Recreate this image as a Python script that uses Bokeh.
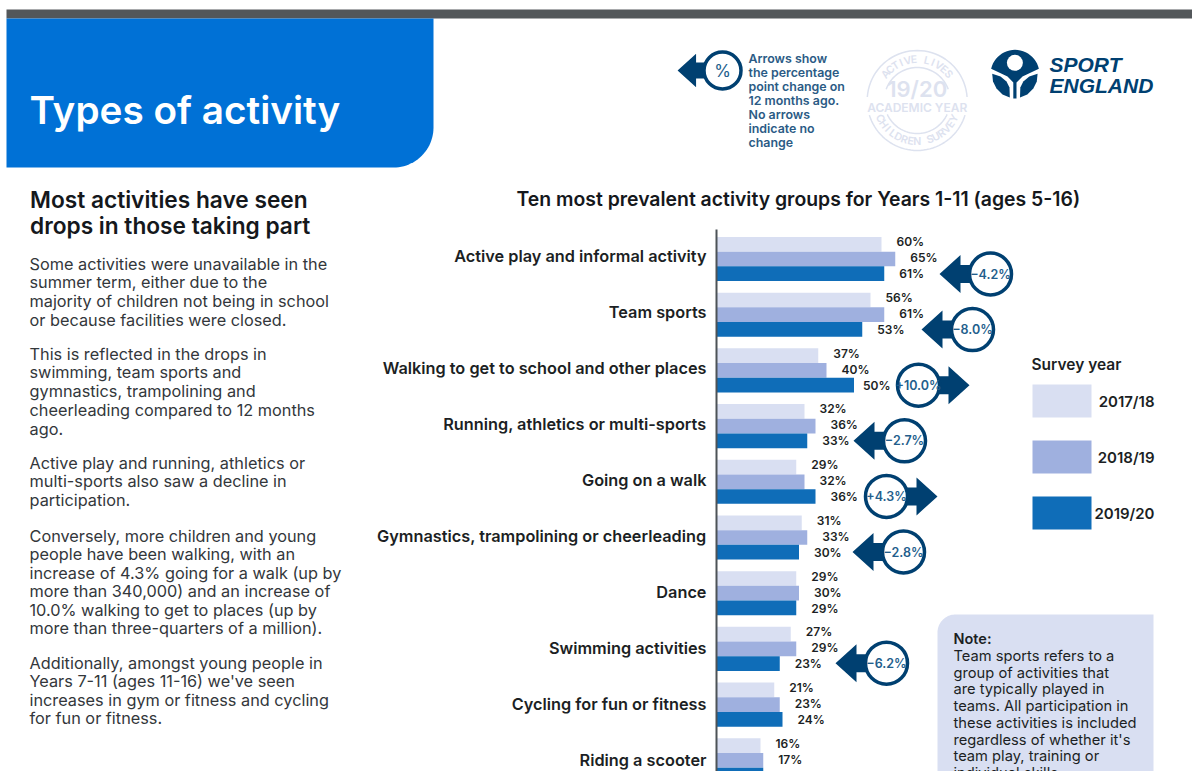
import math
from bokeh.plotting import figure
from bokeh.layouts import column, row
from bokeh.models import Range1d, FixedTicker
from bokeh.core.properties import value
from bokeh.embed import file_html
from bokeh.resources import INLINE

categories = ["Active play and informal activity", "Team sports",
              "Walking to get to school and other places", "Running, athletics or multi-sports",
              "Going on a walk", "Gymnastics, trampolining or cheerleading", "Dance",
              "Swimming activities", "Cycling for fun or fitness", "Riding a scooter"]
y2017 = [60, 56, 37, 32, 29, 31, 29, 27, 21, 16]
y2018 = [65, 61, 40, 36, 32, 33, 30, 29, 23, 17]
y2020 = [61, 53, 50, 33, 36, 30, 29, 23, 24, 17]
change = [-4.2, -8.0, 10.0, -2.7, 4.3, -2.8, None, -6.2, None, None]
change_circle_x = [990, 972, 918, 904, 886, 903, None, 886, None, None]
years = ["2017/18", "2018/19", "2019/20"]
colors = ["#d9dff2", "#9fb0df", "#0f6db8"]
NAVY = "#004071"
INK = "#1c1f24"
FONT = "Inter"
SEMI = "Inter SemiBold, Inter"

left_head = ["Most activities have seen", "drops in those taking part"]
left_head_y = [199, 225]
left_body = [
    (263, "Some activities were unavailable in the"), (281, "summer term, either due to the"),
    (300, "majority of children not being in school"), (319, "or because facilities were closed."),
    (353, "This is reflected in the drops in"), (371, "swimming, team sports and"),
    (390, "gymnastics, trampolining and"), (409, "cheerleading compared to 12 months"), (428, "ago."),
    (462, "Active play and running, athletics or"), (480, "multi-sports also saw a decline in"),
    (499, "participation."),
    (535, "Conversely, more children and young"), (553, "people have been walking, with an"),
    (572, "increase of 4.3% going for a walk (up by"), (590, "more than 340,000) and an increase of"),
    (609, "10.0% walking to get to places (up by"), (627, "more than three-quarters of a million)."),
    (662, "Additionally, amongst young people in"), (680, "Years 7-11 (ages 11-16) we've seen"),
    (699, "increases in gym or fitness and cycling"), (717, "for fun or fitness."),
]
arrow_note = ["Arrows show", "the percentage", "point change on", "12 months ago.",
              "No arrows", "indicate no", "change"]
note_lines = ["Team sports refers to a", "group of activities that", "are typically played in",
              "teams. All participation in", "these activities is included",
              "regardless of whether it's", "team play, training or", "individual skills"]

W, H, HEAD_H, LEFT_W = 1192, 771, 175, 360
X0, FRAME_TOP = 716, 215
PX_PER_PCT, ROW0, ROW_H = 2.75, 255, 56


def page_fig(x0, x1, y0, y1):
    f = figure(width=x1 - x0, height=y1 - y0, output_backend="svg", toolbar_location=None,
               x_axis_location=None, y_axis_location=None, min_border=0, outline_line_color=None,
               x_range=Range1d(x0, x1), y_range=Range1d(y1, y0), frame_align=False)
    f.grid.visible = False
    return f


def arc(cx, cy, r, a0, a1, n=24):
    return [(cx + r * math.cos(math.radians(a0 + (a1 - a0) * i / n)),
             cy + r * math.sin(math.radians(a0 + (a1 - a0) * i / n))) for i in range(n + 1)]


def txt(f, x, y, s, size, color=INK, style="normal", font=FONT, align="left", **kw):
    f.text([x], [y], text=[s], text_font=value(font), text_font_size=f"{size}px",
           text_font_style=style, text_color=color, text_align=align, text_baseline="middle", **kw)


def poly(f, pts, color, **kw):
    f.patch([q[0] for q in pts], [q[1] for q in pts], fill_color=color, line_color=None, **kw)


def draw_arrow(f, cx, cy, direction, r, mark, size, font=SEMI, **kw):
    k = r / 21
    tip = cx + direction * 51 * k
    base = cx + direction * 30 * k
    h, b = 9 * k, 19 * k
    poly(f, [(cx, cy - h), (base, cy - h), (base, cy - b), (tip, cy), (base, cy + b), (base, cy + h), (cx, cy + h)], NAVY, **kw)
    f.scatter([cx], [cy], size=2 * r, fill_color="#ffffff", line_color=NAVY, line_width=3.5, **kw)
    txt(f, cx, cy, mark, size, "#235e8c", "normal", font, "center", **kw)


# ---- header strip
head = page_fig(0, W, 0, HEAD_H)
poly(head, [(6, 9), (W, 9), (W, 18), (6, 18)], "#53575a")
corner = arc(393, 127, 40, 0, 90)
poly(head, [(6, 18), (433, 18)] + corner + [(6, 167)], "#0071d6")
txt(head, 29, 109, "Types of activity", 38.7, "#ffffff", "normal", SEMI)

draw_arrow(head, 722, 70, -1, 18.5, "%", 17, font="Inter Bold, Inter")
for i, s in enumerate(arrow_note):
    txt(head, 748, 58 + 14 * i, s, 12.4, "#2b5b85", "normal", SEMI)

STAMP = "#dde2ef"
SX, SY = 916.7, 100
for a0, a1, r in [(-176, -4, 50), (17, 163, 50), (-160, -20, 33), (25, 155, 33)]:
    pts = arc(SX, SY, r, a0, a1, 40)
    head.line([q[0] for q in pts], [q[1] for q in pts], line_color=STAMP, line_width=1.5)
for word, r, span, sign in [("ACTIVE LIVES", 41, 50, 1), ("CHILDREN SURVEY", 41, 64, -1)]:
    n = len(word)
    for j, ch in enumerate(word):
        t = math.radians(-span + 2 * span * j / (n - 1))
        head.text([SX + r * math.sin(t)], [SY - sign * r * math.cos(t)], text=[ch], angle=[-sign * t],
                  text_align="center", text_baseline="middle", text_font=value(SEMI),
                  text_font_size="10.5px", text_color=STAMP)
txt(head, SX, 88, "19/20", 22, STAMP, "normal", SEMI, "center")
txt(head, SX, 107, "ACADEMIC YEAR", 12, STAMP, "normal", SEMI, "center")

poly(head, arc(1014.5, 73.8, 24.5, 193, 347) + [(1022, 76), (1016, 82), (1016, 98), (1012.8, 98), (1012.8, 82), (1007, 76)], NAVY)
head.scatter([1014.4], [62.3], size=16, fill_color="#ffffff", line_color=None)
leaf = [(991.7, 73.3), (1000, 76), (1006, 81), (1009, 87), (1009.3, 97), (1002, 94), (996, 88), (992.5, 81)]
poly(head, leaf, NAVY)
poly(head, [(2028.8 - x, y) for x, y in leaf], NAVY)
txt(head, 1049, 63.5, "SPORT", 21, NAVY, "bold italic", "Liberation Sans")
txt(head, 1049, 84.5, "ENGLAND", 21, NAVY, "bold italic", "Liberation Sans")

# ---- left column
left = page_fig(0, LEFT_W, HEAD_H, H)
for y, s in zip(left_head_y, left_head):
    txt(left, 29.5, y, s, 22.7, "#15181c", "normal", SEMI)
for y, s in left_body:
    txt(left, 29, y, s, 16.3, "#33373b")

# ---- chart
p = figure(width=W - LEFT_W, height=H - HEAD_H, output_backend="svg", toolbar_location=None,
           x_axis_location=None, min_border_left=X0 - LEFT_W, min_border_right=0,
           min_border_top=FRAME_TOP - HEAD_H, min_border_bottom=0, outline_line_color=None,
           x_range=Range1d(0, (W - X0) / PX_PER_PCT),
           y_range=Range1d((H - ROW0) / ROW_H, (FRAME_TOP - ROW0) / ROW_H),
           title="Ten most prevalent activity groups for Years 1-11 (ages 5-16)", frame_align=False)
p.extra_x_ranges["px"] = Range1d(X0, W)
p.extra_y_ranges["px"] = Range1d(H, FRAME_TOP)
p.grid.visible = False
p.title.text_font = SEMI
p.title.text_font_size = "19.4px"
p.title.text_font_style = "normal"
p.title.text_color = "#15181c"
p.title.align = "left"
p.title.offset = 516 - X0
p.title.standoff = 10

ax = p.yaxis[0]
ax.ticker = FixedTicker(ticks=list(range(len(categories))))
ax.major_label_overrides = {i: c for i, c in enumerate(categories)}
ax.major_tick_line_color = None
ax.minor_tick_line_color = None
ax.major_tick_out = 0
ax.major_label_standoff = 10
ax.major_label_text_font = SEMI
ax.major_label_text_font_size = "16.3px"
ax.major_label_text_font_style = "normal"
ax.major_label_text_color = INK
ax.axis_line_color = "#4d5357"
ax.axis_line_width = 2
ax.bounds = (-0.46, 9.3)
PX = dict(x_range_name="px", y_range_name="px")


def row_shift(i, k, step, lift=0):
    return i + (3.5 - lift - 0.3 * i + (k - 1) * step) / ROW_H


rows = list(range(len(categories)))
for k, series in enumerate([y2017, y2018, y2020]):
    p.hbar(y=[row_shift(i, k, 14.7) for i in rows], left=0, right=series, height=14.7 / ROW_H,
           fill_color=colors[k], line_color=None)
    gaps = [15] * len(rows)
    if k == 2:
        gaps[2] = 9  # the 50% label sits close to its bar, clear of the +10.0% ring
    p.text(x=series, y=[row_shift(i, k, 16, 1.2) for i in rows], text=[f"{v}%" for v in series],
           x_offset=gaps, text_baseline="middle", text_font=value(SEMI), text_font_size="12px",
           text_color=INK)

for i, (c, cx) in enumerate(zip(change, change_circle_x)):
    if c is not None:
        draw_arrow(p, cx, 273.5 + 55.6 * i, 1 if c > 0 else -1, 21,
                   f"{c:+.1f}%".replace("-", "\u2212"), 12.5, **PX)

txt(p, 1031, 364, "Survey year", 15.5, INK, "normal", SEMI, **PX)
for k, (yr, col) in enumerate(zip(years, colors)):
    p.quad(left=[1032], right=[1091], top=[384 + 56 * k], bottom=[417 + 56 * k],
           fill_color=col, line_color=None, **PX)
    txt(p, 1154, 401 + 56 * k, yr, 15, INK, "normal", SEMI, "right", **PX)

poly(p, arc(955, 632, 18, 180, 270) + [(1153, 614), (1153, H), (937, H)], "#d9dff2", **PX)
txt(p, 953, 638, "Note:", 14.5, INK, "normal", SEMI, **PX)
for i, s in enumerate(note_lines):
    txt(p, 953, 655.5 + 16.7 * i, s, 14.7, INK, **PX)

page = column(head, row(left, p, spacing=0), spacing=0)
open("out.html", "w").write(file_html(page, INLINE))
